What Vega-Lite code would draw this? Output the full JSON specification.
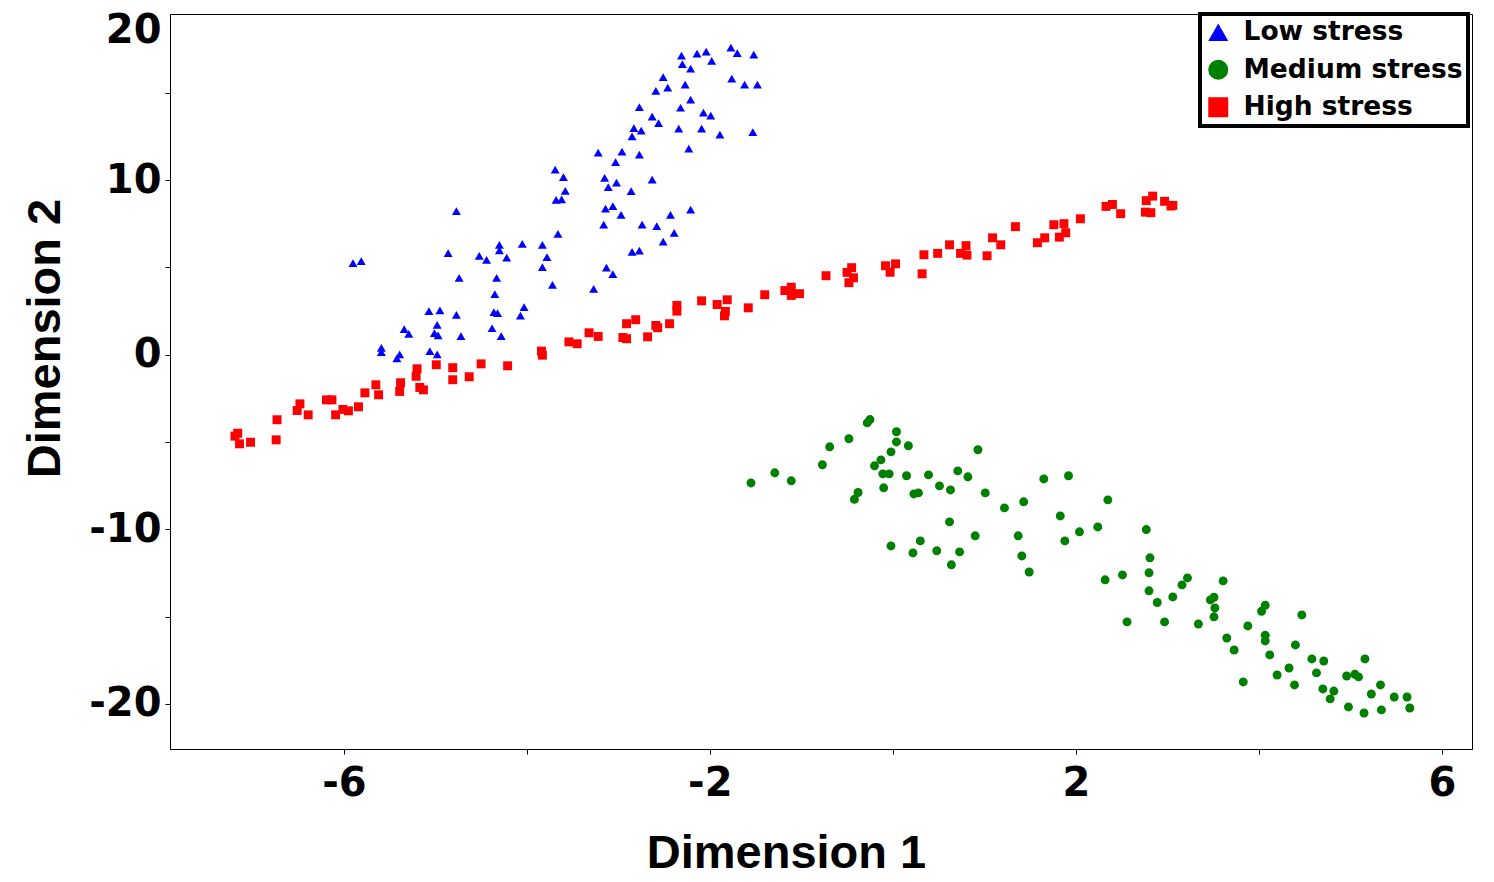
{
  "$schema": "https://vega.github.io/schema/vega-lite/v6.json",
  "width": 1302,
  "height": 735,
  "autosize": {"type": "none"},
  "padding": {"left": 170, "top": 14, "right": 22, "bottom": 133},
  "background": "white",
  "config": {
    "view": {"stroke": "black", "strokeWidth": 1},
    "legend": {"strokeWidth": 4}
  },
  "data": {
    "values": [
      {"dim1": -7.16, "dim2": -4.49, "stress": "High stress"},
      {"dim1": -7.19, "dim2": -4.66, "stress": "High stress"},
      {"dim1": -7.14, "dim2": -5.10, "stress": "High stress"},
      {"dim1": -7.02, "dim2": -5.01, "stress": "High stress"},
      {"dim1": -6.74, "dim2": -4.87, "stress": "High stress"},
      {"dim1": -6.73, "dim2": -3.72, "stress": "High stress"},
      {"dim1": -6.48, "dim2": -2.81, "stress": "High stress"},
      {"dim1": -6.51, "dim2": -3.19, "stress": "High stress"},
      {"dim1": -6.39, "dim2": -3.44, "stress": "High stress"},
      {"dim1": -6.19, "dim2": -2.58, "stress": "High stress"},
      {"dim1": -6.13, "dim2": -2.58, "stress": "High stress"},
      {"dim1": -6.09, "dim2": -3.44, "stress": "High stress"},
      {"dim1": -6.01, "dim2": -3.13, "stress": "High stress"},
      {"dim1": -5.95, "dim2": -3.21, "stress": "High stress"},
      {"dim1": -5.84, "dim2": -2.98, "stress": "High stress"},
      {"dim1": -5.77, "dim2": -2.18, "stress": "High stress"},
      {"dim1": -5.65, "dim2": -1.72, "stress": "High stress"},
      {"dim1": -5.62, "dim2": -2.29, "stress": "High stress"},
      {"dim1": -5.38, "dim2": -1.60, "stress": "High stress"},
      {"dim1": -5.39, "dim2": -2.10, "stress": "High stress"},
      {"dim1": -5.20, "dim2": -0.80, "stress": "High stress"},
      {"dim1": -5.21, "dim2": -1.23, "stress": "High stress"},
      {"dim1": -5.17, "dim2": -1.87, "stress": "High stress"},
      {"dim1": -5.13, "dim2": -2.01, "stress": "High stress"},
      {"dim1": -4.99, "dim2": -0.57, "stress": "High stress"},
      {"dim1": -4.81, "dim2": -0.74, "stress": "High stress"},
      {"dim1": -4.81, "dim2": -1.43, "stress": "High stress"},
      {"dim1": -4.63, "dim2": -1.26, "stress": "High stress"},
      {"dim1": -4.50, "dim2": -0.52, "stress": "High stress"},
      {"dim1": -4.21, "dim2": -0.63, "stress": "High stress"},
      {"dim1": -3.84, "dim2": 0.21, "stress": "High stress"},
      {"dim1": -3.83, "dim2": -0.02, "stress": "High stress"},
      {"dim1": -3.54, "dim2": 0.74, "stress": "High stress"},
      {"dim1": -3.45, "dim2": 0.63, "stress": "High stress"},
      {"dim1": -3.32, "dim2": 1.26, "stress": "High stress"},
      {"dim1": -3.22, "dim2": 1.05, "stress": "High stress"},
      {"dim1": -2.95, "dim2": 0.99, "stress": "High stress"},
      {"dim1": -2.91, "dim2": 0.92, "stress": "High stress"},
      {"dim1": -2.91, "dim2": 1.78, "stress": "High stress"},
      {"dim1": -2.81, "dim2": 2.01, "stress": "High stress"},
      {"dim1": -2.68, "dim2": 1.03, "stress": "High stress"},
      {"dim1": -2.59, "dim2": 1.68, "stress": "High stress"},
      {"dim1": -2.57, "dim2": 1.55, "stress": "High stress"},
      {"dim1": -2.44, "dim2": 1.78, "stress": "High stress"},
      {"dim1": -2.36, "dim2": 2.83, "stress": "High stress"},
      {"dim1": -2.36, "dim2": 2.50, "stress": "High stress"},
      {"dim1": -2.09, "dim2": 3.09, "stress": "High stress"},
      {"dim1": -1.92, "dim2": 2.88, "stress": "High stress"},
      {"dim1": -1.81, "dim2": 3.15, "stress": "High stress"},
      {"dim1": -1.83, "dim2": 2.48, "stress": "High stress"},
      {"dim1": -1.84, "dim2": 2.23, "stress": "High stress"},
      {"dim1": -1.58, "dim2": 2.69, "stress": "High stress"},
      {"dim1": -1.40, "dim2": 3.44, "stress": "High stress"},
      {"dim1": -1.18, "dim2": 3.68, "stress": "High stress"},
      {"dim1": -1.11, "dim2": 3.87, "stress": "High stress"},
      {"dim1": -1.11, "dim2": 3.40, "stress": "High stress"},
      {"dim1": -1.02, "dim2": 3.50, "stress": "High stress"},
      {"dim1": -0.73, "dim2": 4.53, "stress": "High stress"},
      {"dim1": -0.50, "dim2": 4.72, "stress": "High stress"},
      {"dim1": -0.45, "dim2": 4.99, "stress": "High stress"},
      {"dim1": -0.43, "dim2": 4.41, "stress": "High stress"},
      {"dim1": -0.48, "dim2": 4.13, "stress": "High stress"},
      {"dim1": -0.08, "dim2": 5.10, "stress": "High stress"},
      {"dim1": 0.03, "dim2": 5.21, "stress": "High stress"},
      {"dim1": -0.03, "dim2": 4.73, "stress": "High stress"},
      {"dim1": 0.32, "dim2": 4.64, "stress": "High stress"},
      {"dim1": 0.34, "dim2": 5.73, "stress": "High stress"},
      {"dim1": 0.49, "dim2": 5.81, "stress": "High stress"},
      {"dim1": 0.62, "dim2": 6.30, "stress": "High stress"},
      {"dim1": 0.74, "dim2": 5.81, "stress": "High stress"},
      {"dim1": 0.80, "dim2": 6.25, "stress": "High stress"},
      {"dim1": 0.81, "dim2": 5.71, "stress": "High stress"},
      {"dim1": 1.03, "dim2": 5.67, "stress": "High stress"},
      {"dim1": 1.09, "dim2": 6.70, "stress": "High stress"},
      {"dim1": 1.18, "dim2": 6.30, "stress": "High stress"},
      {"dim1": 1.34, "dim2": 7.34, "stress": "High stress"},
      {"dim1": 1.58, "dim2": 6.42, "stress": "High stress"},
      {"dim1": 1.66, "dim2": 6.70, "stress": "High stress"},
      {"dim1": 1.76, "dim2": 7.45, "stress": "High stress"},
      {"dim1": 1.87, "dim2": 7.51, "stress": "High stress"},
      {"dim1": 1.89, "dim2": 6.99, "stress": "High stress"},
      {"dim1": 1.82, "dim2": 6.74, "stress": "High stress"},
      {"dim1": 2.05, "dim2": 7.79, "stress": "High stress"},
      {"dim1": 2.33, "dim2": 8.50, "stress": "High stress"},
      {"dim1": 2.40, "dim2": 8.61, "stress": "High stress"},
      {"dim1": 2.49, "dim2": 8.08, "stress": "High stress"},
      {"dim1": 2.77, "dim2": 8.83, "stress": "High stress"},
      {"dim1": 2.84, "dim2": 9.09, "stress": "High stress"},
      {"dim1": 2.76, "dim2": 8.17, "stress": "High stress"},
      {"dim1": 2.82, "dim2": 8.14, "stress": "High stress"},
      {"dim1": 2.97, "dim2": 8.79, "stress": "High stress"},
      {"dim1": 3.04, "dim2": 8.52, "stress": "High stress"},
      {"dim1": 3.06, "dim2": 8.56, "stress": "High stress"},
      {"dim1": -3.69, "dim2": 10.60, "stress": "Low stress"},
      {"dim1": -3.60, "dim2": 10.18, "stress": "Low stress"},
      {"dim1": -3.58, "dim2": 9.39, "stress": "Low stress"},
      {"dim1": -3.68, "dim2": 8.88, "stress": "Low stress"},
      {"dim1": -3.62, "dim2": 8.90, "stress": "Low stress"},
      {"dim1": -4.77, "dim2": 8.23, "stress": "Low stress"},
      {"dim1": -3.66, "dim2": 6.93, "stress": "Low stress"},
      {"dim1": -5.90, "dim2": 5.25, "stress": "Low stress"},
      {"dim1": -5.81, "dim2": 5.36, "stress": "Low stress"},
      {"dim1": -4.86, "dim2": 5.82, "stress": "Low stress"},
      {"dim1": -4.30, "dim2": 6.30, "stress": "Low stress"},
      {"dim1": -4.30, "dim2": 5.98, "stress": "Low stress"},
      {"dim1": -4.05, "dim2": 6.36, "stress": "Low stress"},
      {"dim1": -3.83, "dim2": 6.29, "stress": "Low stress"},
      {"dim1": -4.52, "dim2": 5.67, "stress": "Low stress"},
      {"dim1": -4.44, "dim2": 5.44, "stress": "Low stress"},
      {"dim1": -4.22, "dim2": 5.56, "stress": "Low stress"},
      {"dim1": -3.78, "dim2": 5.59, "stress": "Low stress"},
      {"dim1": -3.83, "dim2": 5.02, "stress": "Low stress"},
      {"dim1": -4.74, "dim2": 4.41, "stress": "Low stress"},
      {"dim1": -4.33, "dim2": 4.41, "stress": "Low stress"},
      {"dim1": -3.72, "dim2": 4.00, "stress": "Low stress"},
      {"dim1": -4.35, "dim2": 3.47, "stress": "Low stress"},
      {"dim1": -5.07, "dim2": 2.50, "stress": "Low stress"},
      {"dim1": -4.95, "dim2": 2.54, "stress": "Low stress"},
      {"dim1": -4.77, "dim2": 2.29, "stress": "Low stress"},
      {"dim1": -4.36, "dim2": 2.44, "stress": "Low stress"},
      {"dim1": -4.32, "dim2": 2.38, "stress": "Low stress"},
      {"dim1": -4.03, "dim2": 2.73, "stress": "Low stress"},
      {"dim1": -4.07, "dim2": 2.25, "stress": "Low stress"},
      {"dim1": -5.34, "dim2": 1.47, "stress": "Low stress"},
      {"dim1": -5.29, "dim2": 1.20, "stress": "Low stress"},
      {"dim1": -4.98, "dim2": 1.72, "stress": "Low stress"},
      {"dim1": -5.01, "dim2": 1.24, "stress": "Low stress"},
      {"dim1": -4.97, "dim2": 1.11, "stress": "Low stress"},
      {"dim1": -4.72, "dim2": 1.07, "stress": "Low stress"},
      {"dim1": -4.38, "dim2": 1.52, "stress": "Low stress"},
      {"dim1": -4.28, "dim2": 1.07, "stress": "Low stress"},
      {"dim1": -5.59, "dim2": 0.40, "stress": "Low stress"},
      {"dim1": -5.59, "dim2": 0.15, "stress": "Low stress"},
      {"dim1": -5.39, "dim2": 0.02, "stress": "Low stress"},
      {"dim1": -5.42, "dim2": -0.21, "stress": "Low stress"},
      {"dim1": -5.06, "dim2": 0.21, "stress": "Low stress"},
      {"dim1": -4.98, "dim2": 0.02, "stress": "Low stress"},
      {"dim1": -2.31, "dim2": 17.13, "stress": "Low stress"},
      {"dim1": -2.14, "dim2": 17.25, "stress": "Low stress"},
      {"dim1": -2.04, "dim2": 17.36, "stress": "Low stress"},
      {"dim1": -1.77, "dim2": 17.59, "stress": "Low stress"},
      {"dim1": -1.70, "dim2": 17.28, "stress": "Low stress"},
      {"dim1": -1.52, "dim2": 17.19, "stress": "Low stress"},
      {"dim1": -2.30, "dim2": 16.65, "stress": "Low stress"},
      {"dim1": -2.21, "dim2": 16.39, "stress": "Low stress"},
      {"dim1": -1.98, "dim2": 16.83, "stress": "Low stress"},
      {"dim1": -2.51, "dim2": 15.91, "stress": "Low stress"},
      {"dim1": -2.59, "dim2": 15.11, "stress": "Low stress"},
      {"dim1": -2.46, "dim2": 15.30, "stress": "Low stress"},
      {"dim1": -2.27, "dim2": 15.47, "stress": "Low stress"},
      {"dim1": -1.76, "dim2": 15.82, "stress": "Low stress"},
      {"dim1": -1.62, "dim2": 15.47, "stress": "Low stress"},
      {"dim1": -1.48, "dim2": 15.47, "stress": "Low stress"},
      {"dim1": -2.77, "dim2": 14.19, "stress": "Low stress"},
      {"dim1": -2.21, "dim2": 14.61, "stress": "Low stress"},
      {"dim1": -2.32, "dim2": 14.15, "stress": "Low stress"},
      {"dim1": -2.63, "dim2": 13.64, "stress": "Low stress"},
      {"dim1": -2.56, "dim2": 13.27, "stress": "Low stress"},
      {"dim1": -2.07, "dim2": 13.87, "stress": "Low stress"},
      {"dim1": -1.99, "dim2": 13.70, "stress": "Low stress"},
      {"dim1": -2.83, "dim2": 12.99, "stress": "Low stress"},
      {"dim1": -2.75, "dim2": 12.84, "stress": "Low stress"},
      {"dim1": -2.85, "dim2": 12.51, "stress": "Low stress"},
      {"dim1": -2.34, "dim2": 12.95, "stress": "Low stress"},
      {"dim1": -2.09, "dim2": 12.95, "stress": "Low stress"},
      {"dim1": -1.89, "dim2": 12.61, "stress": "Low stress"},
      {"dim1": -1.53, "dim2": 12.76, "stress": "Low stress"},
      {"dim1": -3.22, "dim2": 11.58, "stress": "Low stress"},
      {"dim1": -2.96, "dim2": 11.63, "stress": "Low stress"},
      {"dim1": -3.03, "dim2": 11.04, "stress": "Low stress"},
      {"dim1": -2.77, "dim2": 11.46, "stress": "Low stress"},
      {"dim1": -2.23, "dim2": 11.81, "stress": "Low stress"},
      {"dim1": -3.15, "dim2": 10.14, "stress": "Low stress"},
      {"dim1": -3.02, "dim2": 9.86, "stress": "Low stress"},
      {"dim1": -3.11, "dim2": 9.60, "stress": "Low stress"},
      {"dim1": -2.63, "dim2": 10.03, "stress": "Low stress"},
      {"dim1": -2.86, "dim2": 9.38, "stress": "Low stress"},
      {"dim1": -3.14, "dim2": 8.37, "stress": "Low stress"},
      {"dim1": -3.06, "dim2": 8.52, "stress": "Low stress"},
      {"dim1": -2.97, "dim2": 8.02, "stress": "Low stress"},
      {"dim1": -2.21, "dim2": 8.31, "stress": "Low stress"},
      {"dim1": -2.43, "dim2": 8.02, "stress": "Low stress"},
      {"dim1": -3.16, "dim2": 7.45, "stress": "Low stress"},
      {"dim1": -2.74, "dim2": 7.45, "stress": "Low stress"},
      {"dim1": -2.58, "dim2": 7.37, "stress": "Low stress"},
      {"dim1": -2.39, "dim2": 6.99, "stress": "Low stress"},
      {"dim1": -2.51, "dim2": 6.48, "stress": "Low stress"},
      {"dim1": -2.85, "dim2": 5.90, "stress": "Low stress"},
      {"dim1": -2.77, "dim2": 5.96, "stress": "Low stress"},
      {"dim1": -3.13, "dim2": 4.99, "stress": "Low stress"},
      {"dim1": -3.06, "dim2": 4.62, "stress": "Low stress"},
      {"dim1": -3.27, "dim2": 3.78, "stress": "Low stress"},
      {"dim1": -1.55, "dim2": -7.34, "stress": "Medium stress"},
      {"dim1": -1.29, "dim2": -6.76, "stress": "Medium stress"},
      {"dim1": -1.11, "dim2": -7.22, "stress": "Medium stress"},
      {"dim1": -0.77, "dim2": -6.30, "stress": "Medium stress"},
      {"dim1": -0.69, "dim2": -5.27, "stress": "Medium stress"},
      {"dim1": -0.48, "dim2": -4.81, "stress": "Medium stress"},
      {"dim1": -0.28, "dim2": -3.90, "stress": "Medium stress"},
      {"dim1": -0.25, "dim2": -3.71, "stress": "Medium stress"},
      {"dim1": 0.04, "dim2": -4.41, "stress": "Medium stress"},
      {"dim1": 0.04, "dim2": -4.99, "stress": "Medium stress"},
      {"dim1": 0.17, "dim2": -5.21, "stress": "Medium stress"},
      {"dim1": -0.02, "dim2": -5.56, "stress": "Medium stress"},
      {"dim1": -0.13, "dim2": -6.02, "stress": "Medium stress"},
      {"dim1": -0.20, "dim2": -6.36, "stress": "Medium stress"},
      {"dim1": -0.11, "dim2": -6.82, "stress": "Medium stress"},
      {"dim1": -0.04, "dim2": -6.82, "stress": "Medium stress"},
      {"dim1": -0.10, "dim2": -7.62, "stress": "Medium stress"},
      {"dim1": -0.38, "dim2": -7.89, "stress": "Medium stress"},
      {"dim1": -0.42, "dim2": -8.28, "stress": "Medium stress"},
      {"dim1": 0.15, "dim2": -6.93, "stress": "Medium stress"},
      {"dim1": 0.39, "dim2": -6.88, "stress": "Medium stress"},
      {"dim1": 0.51, "dim2": -7.51, "stress": "Medium stress"},
      {"dim1": 0.63, "dim2": -7.74, "stress": "Medium stress"},
      {"dim1": 0.23, "dim2": -7.97, "stress": "Medium stress"},
      {"dim1": 0.28, "dim2": -7.91, "stress": "Medium stress"},
      {"dim1": 0.71, "dim2": -6.65, "stress": "Medium stress"},
      {"dim1": 0.82, "dim2": -6.99, "stress": "Medium stress"},
      {"dim1": 0.93, "dim2": -5.44, "stress": "Medium stress"},
      {"dim1": 1.01, "dim2": -7.91, "stress": "Medium stress"},
      {"dim1": 1.22, "dim2": -8.77, "stress": "Medium stress"},
      {"dim1": 1.43, "dim2": -8.42, "stress": "Medium stress"},
      {"dim1": 1.65, "dim2": -7.11, "stress": "Medium stress"},
      {"dim1": 1.92, "dim2": -6.93, "stress": "Medium stress"},
      {"dim1": 1.83, "dim2": -9.23, "stress": "Medium stress"},
      {"dim1": 1.88, "dim2": -10.66, "stress": "Medium stress"},
      {"dim1": 2.04, "dim2": -10.14, "stress": "Medium stress"},
      {"dim1": 0.62, "dim2": -9.57, "stress": "Medium stress"},
      {"dim1": 0.90, "dim2": -10.37, "stress": "Medium stress"},
      {"dim1": 1.37, "dim2": -10.37, "stress": "Medium stress"},
      {"dim1": -0.02, "dim2": -10.95, "stress": "Medium stress"},
      {"dim1": 0.30, "dim2": -10.66, "stress": "Medium stress"},
      {"dim1": 0.22, "dim2": -11.35, "stress": "Medium stress"},
      {"dim1": 0.48, "dim2": -11.23, "stress": "Medium stress"},
      {"dim1": 0.73, "dim2": -11.29, "stress": "Medium stress"},
      {"dim1": 0.64, "dim2": -12.03, "stress": "Medium stress"},
      {"dim1": 1.41, "dim2": -11.52, "stress": "Medium stress"},
      {"dim1": 1.49, "dim2": -12.44, "stress": "Medium stress"},
      {"dim1": 2.35, "dim2": -8.31, "stress": "Medium stress"},
      {"dim1": 2.24, "dim2": -9.86, "stress": "Medium stress"},
      {"dim1": 2.77, "dim2": -10.01, "stress": "Medium stress"},
      {"dim1": 2.81, "dim2": -11.63, "stress": "Medium stress"},
      {"dim1": 2.80, "dim2": -12.49, "stress": "Medium stress"},
      {"dim1": 2.80, "dim2": -13.52, "stress": "Medium stress"},
      {"dim1": 2.32, "dim2": -12.89, "stress": "Medium stress"},
      {"dim1": 2.51, "dim2": -12.61, "stress": "Medium stress"},
      {"dim1": 2.56, "dim2": -15.30, "stress": "Medium stress"},
      {"dim1": 2.89, "dim2": -14.19, "stress": "Medium stress"},
      {"dim1": 2.97, "dim2": -15.30, "stress": "Medium stress"},
      {"dim1": 3.06, "dim2": -13.87, "stress": "Medium stress"},
      {"dim1": 3.16, "dim2": -13.18, "stress": "Medium stress"},
      {"dim1": 3.22, "dim2": -12.78, "stress": "Medium stress"},
      {"dim1": 3.34, "dim2": -15.42, "stress": "Medium stress"},
      {"dim1": 3.61, "dim2": -12.95, "stress": "Medium stress"},
      {"dim1": 3.47, "dim2": -14.04, "stress": "Medium stress"},
      {"dim1": 3.51, "dim2": -13.89, "stress": "Medium stress"},
      {"dim1": 3.52, "dim2": -14.50, "stress": "Medium stress"},
      {"dim1": 3.51, "dim2": -15.01, "stress": "Medium stress"},
      {"dim1": 3.65, "dim2": -16.22, "stress": "Medium stress"},
      {"dim1": 3.73, "dim2": -16.91, "stress": "Medium stress"},
      {"dim1": 3.83, "dim2": -18.74, "stress": "Medium stress"},
      {"dim1": 3.88, "dim2": -15.53, "stress": "Medium stress"},
      {"dim1": 4.03, "dim2": -14.69, "stress": "Medium stress"},
      {"dim1": 4.07, "dim2": -14.35, "stress": "Medium stress"},
      {"dim1": 4.07, "dim2": -16.07, "stress": "Medium stress"},
      {"dim1": 4.07, "dim2": -16.39, "stress": "Medium stress"},
      {"dim1": 4.12, "dim2": -17.19, "stress": "Medium stress"},
      {"dim1": 4.20, "dim2": -18.34, "stress": "Medium stress"},
      {"dim1": 4.33, "dim2": -17.94, "stress": "Medium stress"},
      {"dim1": 4.39, "dim2": -18.91, "stress": "Medium stress"},
      {"dim1": 4.40, "dim2": -16.62, "stress": "Medium stress"},
      {"dim1": 4.47, "dim2": -14.90, "stress": "Medium stress"},
      {"dim1": 4.58, "dim2": -17.42, "stress": "Medium stress"},
      {"dim1": 4.63, "dim2": -18.22, "stress": "Medium stress"},
      {"dim1": 4.71, "dim2": -17.54, "stress": "Medium stress"},
      {"dim1": 4.70, "dim2": -19.14, "stress": "Medium stress"},
      {"dim1": 4.82, "dim2": -19.26, "stress": "Medium stress"},
      {"dim1": 4.78, "dim2": -19.71, "stress": "Medium stress"},
      {"dim1": 4.96, "dim2": -18.40, "stress": "Medium stress"},
      {"dim1": 5.05, "dim2": -18.30, "stress": "Medium stress"},
      {"dim1": 5.09, "dim2": -18.45, "stress": "Medium stress"},
      {"dim1": 5.16, "dim2": -17.42, "stress": "Medium stress"},
      {"dim1": 4.98, "dim2": -20.17, "stress": "Medium stress"},
      {"dim1": 5.15, "dim2": -20.52, "stress": "Medium stress"},
      {"dim1": 5.23, "dim2": -19.43, "stress": "Medium stress"},
      {"dim1": 5.33, "dim2": -18.91, "stress": "Medium stress"},
      {"dim1": 5.34, "dim2": -20.34, "stress": "Medium stress"},
      {"dim1": 5.48, "dim2": -19.60, "stress": "Medium stress"},
      {"dim1": 5.62, "dim2": -19.60, "stress": "Medium stress"},
      {"dim1": 5.65, "dim2": -20.23, "stress": "Medium stress"}
    ]
  },
  "mark": {"type": "point", "filled": true, "opacity": 1, "size": 80},
  "encoding": {
    "x": {
      "field": "dim1",
      "type": "quantitative",
      "scale": {"domain": [-7.9, 6.33], "nice": false, "zero": false},
      "axis": {
        "title": "Dimension 1",
        "values": [-6, -4, -2, 0, 2, 4, 6],
        "labelExpr": "(datum.value + 6) % 4 == 0 ? datum.value + '' : ''",
        "labelOverlap": false,
        "labelFont": "DejaVu Sans",
        "labelFontWeight": "bold",
        "labelFontSize": 40,
        "labelColor": "black",
        "labelPadding": 9,
        "tickSize": 5,
        "tickColor": "black",
        "domainColor": "black",
        "grid": false,
        "titleFont": "Liberation Sans",
        "titleFontWeight": "bold",
        "titleFontSize": 47,
        "titleColor": "black",
        "titleX": 616,
        "titleY": 118,
        "titleAlign": "center",
        "titleBaseline": "alphabetic"
      }
    },
    "y": {
      "field": "dim2",
      "type": "quantitative",
      "scale": {"domain": [-22.58, 19.52], "nice": false, "zero": false},
      "axis": {
        "title": "Dimension 2",
        "values": [-20, -15, -10, -5, 0, 5, 10, 15, 18.6],
        "labelExpr": "datum.value > 18 ? '20' : (datum.value % 10 == 0 ? datum.value + '' : '')",
        "labelOverlap": false,
        "labelFont": "DejaVu Sans",
        "labelFontWeight": "bold",
        "labelFontSize": 40,
        "labelColor": "black",
        "labelPadding": 4,
        "tickSize": 5,
        "tickColor": "black",
        "tickOpacity": {"condition": {"test": "datum.value > 18", "value": 0}, "value": 1},
        "domainColor": "black",
        "grid": false,
        "titleFont": "Liberation Sans",
        "titleFontWeight": "bold",
        "titleFontSize": 47,
        "titleColor": "black",
        "titleAngle": -90,
        "titleX": -111,
        "titleY": 324,
        "titleAlign": "center",
        "titleBaseline": "alphabetic"
      }
    },
    "color": {
      "field": "stress",
      "type": "nominal",
      "scale": {
        "domain": ["Low stress", "Medium stress", "High stress"],
        "range": ["#0000ff", "#008000", "#ff0000"]
      },
      "legend": {
        "title": null,
        "orient": "none",
        "legendX": 1030,
        "legendY": 0,
        "padding": 5,
        "rowPadding": 10.5,
        "labelOffset": 12,
        "labelLimit": 400,
        "symbolSize": 400,
        "symbolStrokeWidth": 0,
        "symbolOpacity": 1,
        "labelFont": "DejaVu Sans",
        "labelFontWeight": "bold",
        "labelFontSize": 26.5,
        "labelColor": "black",
        "strokeColor": "black",
        "fillColor": "white"
      }
    },
    "shape": {
      "field": "stress",
      "type": "nominal",
      "scale": {
        "domain": ["Low stress", "Medium stress", "High stress"],
        "range": ["triangle-up", "circle", "square"]
      }
    }
  }
}
